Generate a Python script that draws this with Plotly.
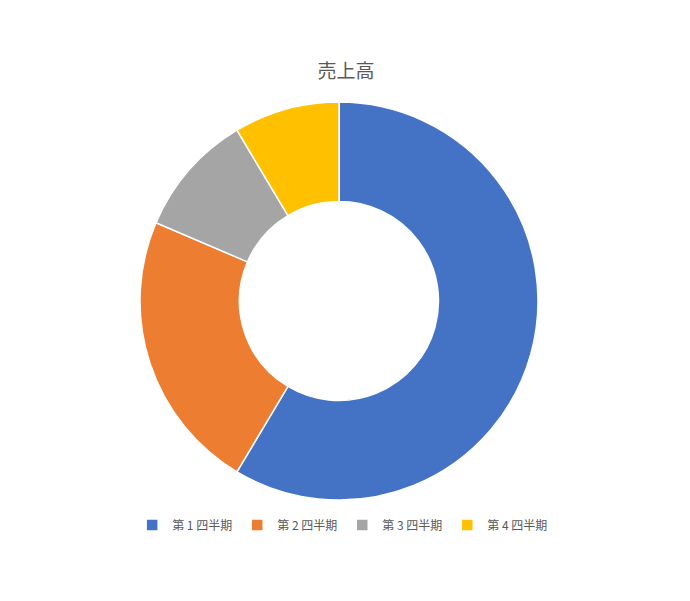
import plotly.graph_objects as go

# 四半期ごとの売上高
quarters = ["第 1 四半期", "第 2 四半期", "第 3 四半期", "第 4 四半期"]
sales = [8.2, 3.2, 1.4, 1.2]
colors = ["#4472C4", "#ED7D31", "#A5A5A5", "#FFC000"]

W, H = 690, 601
cx, cy, r = 331, 293, 199

fig = go.Figure()
fig.add_trace(go.Pie(
    labels=quarters,
    values=sales,
    hole=0.5,
    sort=False,
    direction="clockwise",
    rotation=0,
    textinfo="none",
    marker=dict(colors=colors, line=dict(color="white", width=1.5)),
    domain=dict(x=[(cx - r) / W, (cx + r) / W], y=[1 - (cy + r) / H, 1 - (cy - r) / H]),
))

fig.update_layout(
    width=W, height=H,
    margin=dict(l=0, r=0, t=0, b=0),
    paper_bgcolor="white",
    font=dict(family="Noto Sans CJK JP", color="#595959"),
    title=dict(text="売上高", x=0.49, xanchor="center", y=1 - 63 / H, yanchor="middle",
               font=dict(size=19, color="#595959")),
    legend=dict(orientation="h", x=0.485, xanchor="center", y=1 - 517 / H, yanchor="middle",
                font=dict(size=12, color="#595959"), itemwidth=30),
)

fig.write_html("out.html")
